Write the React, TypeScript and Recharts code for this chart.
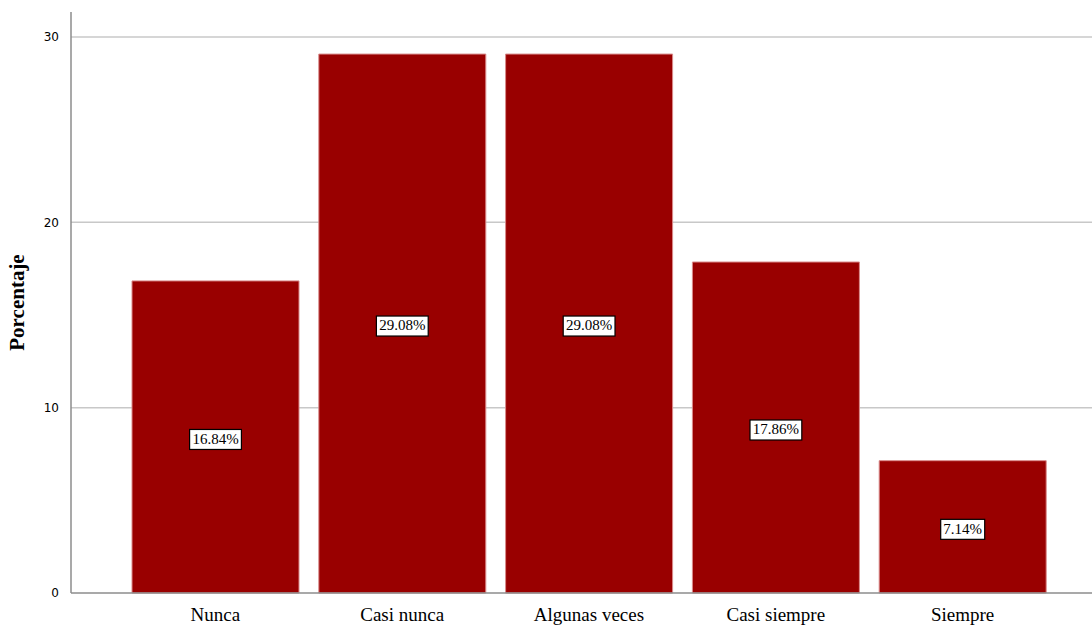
import { Bar, BarChart, CartesianGrid, LabelList, XAxis, YAxis } from "recharts";

const categories = ["Nunca", "Casi nunca", "Algunas veces", "Casi siempre", "Siempre"];
const percentages = [16.84, 29.08, 29.08, 17.86, 7.14];
const yTicks = [0, 10, 20, 30];

const chartData = categories.map((name, i) => ({ name, value: percentages[i] }));

function BoxLabel(props: any) {
  const { x, y, width, height, value } = props;
  const cx = x + width / 2;
  const cy = y + height / 2 + 2.5;
  const text = `${Number(value).toFixed(2)}%`;
  const w = text.length * 7.8 + 5;
  return (
    <g>
      <rect x={cx - w / 2} y={cy - 10} width={w} height={20} fill="#ffffff" stroke="#000000" strokeWidth={1.2} />
      <text
        x={cx}
        y={cy + 1}
        textAnchor="middle"
        dominantBaseline="middle"
        fontFamily="'Liberation Serif', serif"
        fontSize={15}
        fill="#000"
      >
        {text}
      </text>
    </g>
  );
}

export default function App() {
  return (
    <div style={{ position: "fixed", left: 0, top: 0, width: 1092, height: 626, background: "#fff" }}>
      <BarChart
        width={1092}
        height={626}
        data={chartData}
        margin={{ top: 12, right: 0, bottom: 0, left: 0 }}
        barCategoryGap={10}
      >
        <CartesianGrid vertical={false} horizontalValues={[10, 20, 30]} stroke="#c8c8c8" strokeWidth={1.5} />
        <XAxis
          dataKey="name"
          height={33}
          padding={{ left: 51, right: 36 }}
          stroke="#8c8c8c"
          strokeWidth={1.5}
          tickLine={false}
          tick={{ fill: "#000", fontFamily: "'Liberation Serif', serif", fontSize: 19 }}
          tickMargin={9}
        />
        <YAxis
          width={71}
          domain={[0, 31.35]}
          ticks={yTicks}
          stroke="#8c8c8c"
          strokeWidth={1.5}
          tickLine={false}
          tick={{ fill: "#000", fontFamily: "'DejaVu Sans', sans-serif", fontSize: 12 }}
          tickMargin={6}
          label={{
            value: "Porcentaje",
            angle: -90,
            position: "insideLeft",
            offset: 17,
            style: {
              fontFamily: "'Liberation Serif', serif",
              fontWeight: "bold",
              fontSize: 21,
              fill: "#000",
              textAnchor: "middle",
            },
          }}
        />
        <Bar dataKey="value" fill="#990000" stroke="#d98a8a" strokeWidth={1} isAnimationActive={false}>
          <LabelList dataKey="value" content={BoxLabel} />
        </Bar>
      </BarChart>
    </div>
  );
}
